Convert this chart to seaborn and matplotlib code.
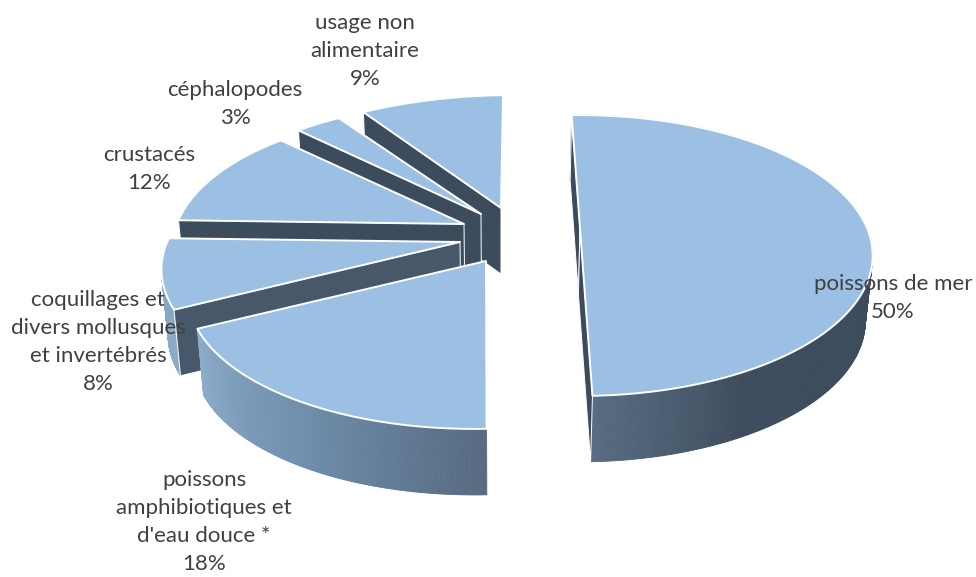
import numpy as np
import seaborn as sns
import matplotlib
matplotlib.use('Agg')
import matplotlib.pyplot as plt

# Chart data (clockwise from the top)
categories = ['poissons de mer', 'poissons\namphibiotiques et\nd\'eau douce *',
              'coquillages et\ndivers mollusques\net invertébrés', 'crustacés',
              'céphalopodes', 'usage non\nalimentaire']
shares = [50, 18, 8, 12, 3, 9]

# Layout of the exploded slices, in pixels
apex_x = [580, 486, 460, 464, 481, 501]
apex_y = [228, 261, 242, 224, 214, 208]
shear = [0, 12, 0, -6, 0, 10.8]
stretch = [1, 1.01, 1.02, 1, 1.02, 1.05]
label_x = [893, 204, 98, 149, 235, 365]
label_y = [298, 522, 342, 169, 104, 51]

# Colours of the curved walls, from the slice start to its end
wall_colors = [
    ['#3d4c5c', '#3d4c5c', '#3d4c5c', '#3d4c5c', '#3d4c5c', '#3d4c5c', '#3e4d5d', '#586c82'],
    ['#566a80', '#6f8fad', '#8cacc9'],
    ['#8cacc9', '#84a6c6'],
]
edge_wall = ['#3d4c5c', '#3d4c5c', '#46586a', '#3d4c5c', '#3d4c5c', '#3d4c5c']
top_color = '#9bc0e3'

sns.set_theme(style='white')
plt.rcParams['font.family'] = ['Lato', 'DejaVu Sans']

START = -2
RAD_X, RAD_Y, PERSP = 287, 135, 0.196
DEPTH, SHRINK, MID_X = 66, 0.98, 500


def project(i, theta):
    # tilted circle with a bit of perspective, theta clockwise from 12 o'clock
    u = np.sin(np.radians(theta))
    v = np.cos(np.radians(theta))
    w = 1 / (1 + PERSP * v)
    return apex_x[i] + stretch[i] * RAD_X * u * w + shear[i] * v, apex_y[i] - RAD_Y * v * w


def lower(x, y):
    return MID_X + (np.asarray(x) - MID_X) * SHRINK, np.asarray(y) + DEPTH


fig, ax = plt.subplots(figsize=(9.76, 5.77), dpi=100)
fig.subplots_adjust(0, 0, 1, 1)
ax.set_xlim(0, 976)
ax.set_ylim(577, 0)
ax.axis('off')

ends = START + np.cumsum(shares) * 3.6
starts = ends - np.array(shares) * 3.6
# back slices first, the front ones cover them
for i in [5, 4, 3, 2, 1, 0]:
    thetas = np.linspace(starts[i], ends[i], 240)
    arc_x, arc_y = project(i, thetas)
    low_x, low_y = lower(arc_x, arc_y)

    # curved wall in thin strips for the gradient, only the front slices show it
    if i < len(wall_colors):
        pal = sns.blend_palette(wall_colors[i], len(thetas) - 1)
        for k in range(len(thetas) - 1):
            ax.fill([arc_x[k], arc_x[k + 1], low_x[k + 1], low_x[k]],
                    [arc_y[k], arc_y[k + 1], low_y[k + 1], low_y[k]],
                    color=pal[k], lw=0.6)

    # straight walls under the cut edges that face the viewer
    if i == 0:
        cut_ends = [0, -1]
    elif i == 1:
        cut_ends = []
    else:
        cut_ends = [0]
    for k in cut_ends:
        xs = [arc_x[k], apex_x[i]]
        ys = [arc_y[k], apex_y[i]]
        lx, ly = lower(xs, ys)
        ax.fill([xs[0], xs[1], lx[1], lx[0]], [ys[0], ys[1], ly[1], ly[0]],
                facecolor=edge_wall[i], edgecolor='white', lw=0.7)

    # top face
    ax.fill(np.r_[apex_x[i], arc_x], np.r_[apex_y[i], arc_y],
            facecolor=top_color, edgecolor='white', lw=1.4, joinstyle='round')

for i, name in enumerate(categories):
    ax.text(label_x[i], label_y[i], f'{name}\n{shares[i]}%', ha='center', va='center',
            fontsize=16, color='#404040', linespacing=1.52)

fig.savefig('out.png', dpi=100)
